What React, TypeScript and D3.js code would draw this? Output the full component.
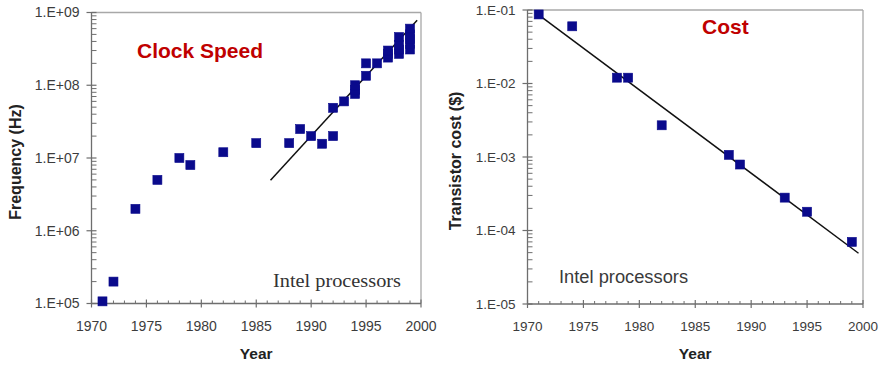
import React from "react";
import * as d3 from "d3";

// ---------- data ----------
const clockYears = [1971, 1972, 1974, 1976, 1978, 1979, 1982, 1985, 1988, 1989, 1990, 1991, 1992, 1992, 1993, 1994, 1994, 1994, 1995, 1995, 1996, 1997, 1997, 1997, 1998, 1998, 1998, 1998, 1999, 1999, 1999, 1999, 1999];
const clockHz = [1.07e5, 2e5, 2e6, 5e6, 1e7, 8e6, 1.2e7, 1.6e7, 1.6e7, 2.5e7, 2e7, 1.57e7, 4.9e7, 2e7, 6e7, 7.6e7, 8.6e7, 1e8, 2e8, 1.35e8, 2e8, 2.4e8, 2.7e8, 3e8, 2.7e8, 3.1e8, 3.6e8, 4.6e8, 3.1e8, 3.7e8, 4.3e8, 5e8, 6e8];
const clockTrendYears = [1986.3, 1999.65];
const clockTrendHz = [4.96e6, 7.8e8];

const costYears = [1971, 1974, 1978, 1979, 1982, 1988, 1989, 1993, 1995, 1999];
const costValues = [0.087, 0.06, 0.012, 0.012, 0.0027, 0.00107, 0.00079, 0.00028, 0.00018, 0.00007];
const costTrendYears = [1971, 1999.6];
const costTrendValues = [0.086, 4.9e-5];

const xTickYears = [1970, 1975, 1980, 1985, 1990, 1995, 2000];
const clockTickLabels = ["1.E+05", "1.E+06", "1.E+07", "1.E+08", "1.E+09"];
const clockTickValues = [1e5, 1e6, 1e7, 1e8, 1e9];
const costTickLabels = ["1.E-05", "1.E-04", "1.E-03", "1.E-02", "1.E-01"];
const costTickValues = [1e-5, 1e-4, 1e-3, 1e-2, 1e-1];

type PanelProps = {
  x0: number; x1: number; y0: number; y1: number;
  yDomain: [number, number];
  yTickValues: number[]; yTickLabels: string[];
  years: number[]; values: number[];
  trendYears: number[]; trendValues: number[];
  yLabel: string; yLabelX: number; yLabelY: number;
  labelSize: number;
  title: string; titleX: number; titleY: number;
  note: string; noteX: number; noteY: number; noteSerif: boolean;
};

const MARK = "#0a0a8c";
const BORDER = "#a8a8a8";
const AXIS = "#6e6e6e";
const LABEL = "#3c3c3c";

function Panel(p: PanelProps) {
  const x = d3.scaleLinear().domain([1970, 2000]).range([p.x0, p.x1]);
  const y = d3.scaleLog().domain(p.yDomain).range([p.y1, p.y0]);
  const minorY: number[] = [];
  const lo = Math.log10(p.yDomain[0]);
  const hi = Math.log10(p.yDomain[1]);
  for (let e = Math.round(lo); e < Math.round(hi); e++) {
    for (let m = 2; m <= 9; m++) minorY.push(m * Math.pow(10, e));
  }
  const minorX = d3.range(1971, 2000).filter((v) => v % 5 !== 0);
  const line = d3.line<number>()
    .x((_, i) => x(p.trendYears[i]))
    .y((_, i) => y(p.trendValues[i]));
  const s = 9;
  return (
    <g>
      {/* frame */}
      <line x1={p.x0} x2={p.x1} y1={p.y0} y2={p.y0} stroke={BORDER} strokeWidth={1.3} />
      <line x1={p.x1} x2={p.x1} y1={p.y0} y2={p.y1} stroke={BORDER} strokeWidth={1.3} />
      <line x1={p.x0} x2={p.x0} y1={p.y0} y2={p.y1} stroke={AXIS} strokeWidth={1.3} />
      <line x1={p.x0} x2={p.x1} y1={p.y1} y2={p.y1} stroke={AXIS} strokeWidth={1.3} />
      {/* y ticks */}
      {minorY.map((v, i) => (
        <line key={"my" + i} x1={p.x0} x2={p.x0 + 5} y1={y(v)} y2={y(v)} stroke={AXIS} strokeWidth={1} />
      ))}
      {p.yTickValues.map((v, i) => (
        <g key={"y" + i}>
          <line x1={p.x0 - 5} x2={p.x0 + 5} y1={y(v)} y2={y(v)} stroke={AXIS} strokeWidth={1.2} />
          <text x={p.x0 - 12} y={y(v)} dy="0.35em" textAnchor="end" fontFamily="Liberation Sans, Arial, sans-serif" fontSize={p.labelSize} fill={LABEL}>{p.yTickLabels[i]}</text>
        </g>
      ))}
      {/* x ticks */}
      {minorX.map((v, i) => (
        <line key={"mx" + i} x1={x(v)} x2={x(v)} y1={p.y1} y2={p.y1 - 3} stroke={AXIS} strokeWidth={1} />
      ))}
      {xTickYears.map((v, i) => (
        <g key={"x" + i}>
          <line x1={x(v)} x2={x(v)} y1={p.y1 - 4} y2={p.y1 + 4} stroke={AXIS} strokeWidth={1.2} />
          <text x={x(v)} y={p.y1 + 27} textAnchor="middle" fontFamily="Liberation Sans, Arial, sans-serif" fontSize={p.labelSize} fill={LABEL}>{v}</text>
        </g>
      ))}
      {/* trend */}
      <path d={line(p.trendYears) || ""} fill="none" stroke="#111" strokeWidth={1.5} />
      {/* markers */}
      {p.years.map((yr, i) => (
        <rect key={"m" + i} x={x(yr) - s / 2} y={y(p.values[i]) - s / 2} width={s} height={s} fill={MARK} stroke={MARK} strokeWidth={0.6} />
      ))}
      {/* labels */}
      <text x={(p.x0 + p.x1) / 2} y={359} textAnchor="middle" fontFamily="Liberation Sans, Arial, sans-serif" fontWeight="bold" fontSize={15.5} fill="#222">Year</text>
      <text transform={`translate(${p.yLabelX},${p.yLabelY}) rotate(-90)`} textAnchor="middle" fontFamily="Liberation Sans, Arial, sans-serif" fontWeight="bold" fontSize={16} fill="#222">{p.yLabel}</text>
      <text x={p.titleX} y={p.titleY} fontFamily="Liberation Sans, Arial, sans-serif" fontWeight="bold" fontSize={21} fill="#c00000">{p.title}</text>
      {p.noteSerif ? (
        <text x={p.noteX} y={p.noteY} fontFamily="Liberation Serif, serif" fontSize={19} fill="#333" textLength={128} lengthAdjust="spacingAndGlyphs">{p.note}</text>
      ) : (
        <text x={p.noteX} y={p.noteY} fontFamily="Liberation Sans, Arial, sans-serif" fontSize={18.3} fill="#3a3a3a">{p.note}</text>
      )}
    </g>
  );
}

export default function App() {
  return (
    <svg width={883} height={367} style={{ position: "absolute", left: 0, top: 0, background: "#fff" }}>
      <rect width={883} height={367} fill="#fff" />
      <Panel
        x0={91.5} x1={421} y0={12.5} y1={303.5}
        yDomain={[1e5, 1e9]}
        yTickValues={clockTickValues} yTickLabels={clockTickLabels}
        years={clockYears} values={clockHz}
        trendYears={clockTrendYears} trendValues={clockTrendHz}
        yLabel="Frequency (Hz)" yLabelX={21} yLabelY={162}
        labelSize={14}
        title="Clock Speed" titleX={137} titleY={58}
        note="Intel processors" noteX={273} noteY={287} noteSerif={true}
      />
      <Panel
        x0={527.5} x1={863} y0={10} y1={304}
        yDomain={[1e-5, 1e-1]}
        yTickValues={costTickValues} yTickLabels={costTickLabels}
        years={costYears} values={costValues}
        trendYears={costTrendYears} trendValues={costTrendValues}
        yLabel="Transistor cost ($)" yLabelX={461} yLabelY={161}
        labelSize={13.5}
        title="Cost" titleX={702} titleY={34}
        note="Intel processors" noteX={559} noteY={283} noteSerif={false}
      />
    </svg>
  );
}
